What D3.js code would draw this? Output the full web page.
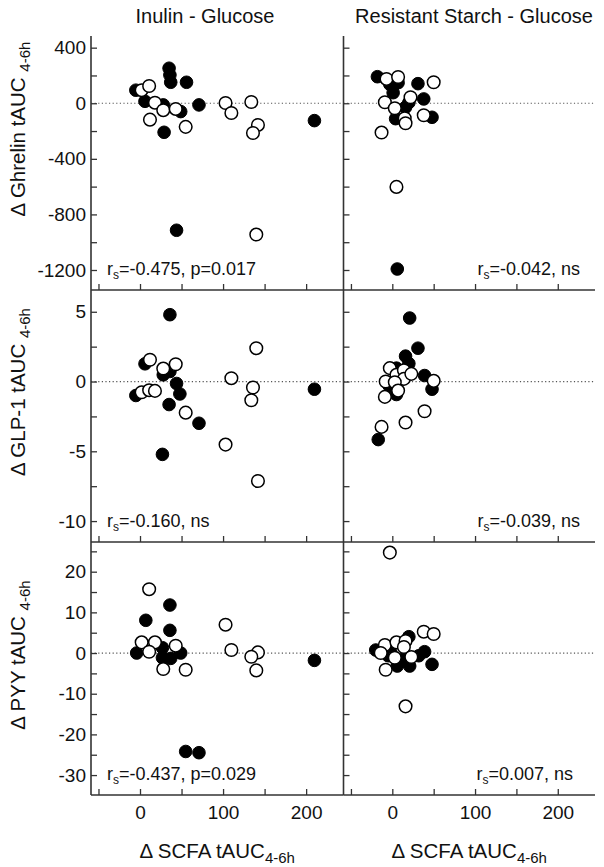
<!DOCTYPE html>
<html><head><meta charset="utf-8">
<script src="https://cdn.jsdelivr.net/npm/d3@7/dist/d3.min.js"></script>
<style>
body{margin:0;background:#fff}
svg{display:block}
text{font-family:"Liberation Sans",Arial,sans-serif;fill:#111}
</style>
</head><body>
<svg id="chart" width="604" height="867"></svg>
<script>
// ---------- data ----------
const columnTitles = ["Inulin - Glucose", "Resistant Starch - Glucose"];
const rowLabels = ["Δ Ghrelin tAUC ", "Δ GLP-1 tAUC ", "Δ PYY tAUC "];
const xLabel = "Δ SCFA tAUC";
const subLabel = "4-6h";
const xDomain = [-59, 245];
const xTickValues = [-50, 0, 50, 100, 150, 200];
const xTickLabels = [0, 100, 200];

const ghrelinDomain = [-1344, 484];
const ghrelinTicks = [400, 200, 0, -200, -400, -600, -800, -1000, -1200];
const ghrelinTickLabels = [400, 0, -400, -800, -1200];
const glpDomain = [-11.5, 6.56];
const glpTicks = [5, 2.5, 0, -2.5, -5, -7.5, -10];
const glpTickLabels = [5, 0, -5, -10];
const pyyDomain = [-34.9, 27.3];
const pyyTicks = [25, 20, 15, 10, 5, 0, -5, -10, -15, -20, -25, -30];
const pyyTickLabels = [20, 10, 0, -10, -20, -30];

// [ΔSCFA, Δhormone]
const ghrelinInulinFilled = [[-5,94],[6,14],[28,-12],[35,252],[36,203],[37,151],[56,151],[49,-60],[29,-209],[71,-12],[44,-914],[210,-125]];
const ghrelinInulinOpen = [[2,94],[11,124],[18,4],[28,-50],[12,-118],[43,-41],[55,-170],[103,2],[110,-70],[134,9],[142,-156],[136,-214],[140,-945]];
const ghrelinRSFilled = [[-18,191],[-3,137],[7,148],[1,76],[31,141],[38,31],[16,-29],[20,5],[4,-111],[48,-101],[6,-1193]];
const ghrelinRSOpen = [[-7,175],[7,189],[50,151],[-9,7],[3,-36],[22,43],[15,-108],[16,-144],[38,-86],[-13,-211],[5,-602]];

const glpInulinFilled = [[36,4.79],[6,1.27],[-5,-1.0],[28,0.48],[36,0.72],[44,-0.14],[48,-0.89],[35,-1.65],[71,-2.99],[27,-5.22],[210,-0.55]];
const glpInulinOpen = [[2,-0.77],[11,-0.62],[12,1.56],[18,-0.67],[28,0.93],[43,1.24],[55,-2.23],[110,0.24],[103,-4.52],[140,2.39],[136,-0.43],[134,-1.34],[142,-7.13]];
const glpRSFilled = [[21,4.55],[31,2.39],[16,1.82],[20,1.29],[5,0.96],[39,0.43],[-4,-0.29],[5,-0.93],[48,-0.55],[-17,-4.16]];
const glpRSOpen = [[-3,0.96],[5,0.48],[14,0.81],[14,0.19],[23,0.55],[-8,0],[3,-0.05],[7,-0.65],[-9,-1.1],[50,0.05],[39,-2.13],[16,-2.94],[-13,-3.25]];

const pyyInulinFilled = [[7,8.05],[36,11.8],[36,5.58],[27,1.31],[-4,0],[27,-1.15],[37,-1.31],[49,0],[55,-24.2],[71,-24.5],[210,-1.8]];
const pyyInulinOpen = [[11,15.7],[2,2.63],[18,2.63],[11,0.33],[43,1.81],[28,-3.94],[55,-4.1],[103,6.97],[110,0.74],[142,0.16],[134,-0.9],[140,-4.27]];
const pyyRSFilled = [[-20,0.74],[-2,0.16],[-5,-0.66],[20,4.02],[6,-3.2],[21,-3.2],[14,-1.31],[32,-0.66],[39,0.33],[48,-2.78]];
const pyyRSOpen = [[-3,24.7],[38,5.25],[50,4.68],[-9,1.97],[5,2.63],[16,2.96],[14,1.48],[-14,0],[3,-1.15],[23,-0.98],[-8,-4.1],[16,-13.1]];

const statR = ["-0.475", "-0.042", "-0.160", "-0.039", "-0.437", "0.007"];
const statP = [", p=0.017", ", ns", ", ns", ", ns", ", p=0.029", ", ns"];

// ---------- layout ----------
const svg = d3.select("#chart");
const colX = [[91, 343.5], [343.5, 595]];
const rowY = [[36, 290], [290, 542], [542, 795]];
const AX = "#333";

const rows = [
  {domain: ghrelinDomain, ticks: ghrelinTicks, labels: ghrelinTickLabels, data: [[ghrelinInulinFilled, ghrelinInulinOpen], [ghrelinRSFilled, ghrelinRSOpen]], labelCy: 129},
  {domain: glpDomain, ticks: glpTicks, labels: glpTickLabels, data: [[glpInulinFilled, glpInulinOpen], [glpRSFilled, glpRSOpen]], labelCy: 392},
  {domain: pyyDomain, ticks: pyyTicks, labels: pyyTickLabels, data: [[pyyInulinFilled, pyyInulinOpen], [pyyRSFilled, pyyRSOpen]], labelCy: 655}
];

// column titles
columnTitles.forEach((t, c) => {
  svg.append("text").attr("x", c === 0 ? 205 : 474).attr("y", 23)
    .attr("text-anchor", "middle").attr("font-size", 20).text(t);
});

rows.forEach((row, r) => {
  const y = d3.scaleLinear().domain(row.domain).range([rowY[r][1], rowY[r][0]]);
  // row label
  const lg = svg.append("text").attr("transform", `translate(25,${row.labelCy}) rotate(-90)`)
    .attr("text-anchor", "middle").attr("font-size", 20.5);
  lg.append("tspan").text(rowLabels[r]);
  lg.append("tspan").attr("font-size", 15).attr("dy", 5).text(subLabel);

  colX.forEach((cx, c) => {
    const x = d3.scaleLinear().domain(xDomain).range(cx);
    const g = svg.append("g");

    // zero dotted line
    g.append("line").attr("x1", cx[0]).attr("x2", cx[1]).attr("y1", y(0)).attr("y2", y(0))
      .attr("stroke", "#555").attr("stroke-width", 1.2).attr("stroke-dasharray", "1.2,2.4");

    // y axis (ticks inward)
    const yAxis = d3.axisRight(y).tickValues(row.ticks).tickSize(6)
      .tickFormat(d => (c === 0 && row.labels.includes(d)) ? d : "");
    const ya = g.append("g").attr("transform", `translate(${cx[0]},0)`).call(yAxis);
    ya.select(".domain").remove();
    ya.selectAll(".tick line").attr("stroke", AX).attr("stroke-width", 1.3);
    ya.selectAll(".tick text").attr("x", -5).attr("text-anchor", "end")
      .attr("font-size", 19).attr("fill", "#111")
      .style("font-family", '"Liberation Sans",Arial,sans-serif');
    g.append("line").attr("x1", cx[0]).attr("x2", cx[0]).attr("y1", rowY[r][0]).attr("y2", rowY[r][1])
      .attr("stroke", AX).attr("stroke-width", 1.6);

    // x axis (ticks inward / upward)
    const xAxis = d3.axisTop(x).tickValues(xTickValues).tickSize(6)
      .tickFormat(d => (r === 2 && xTickLabels.includes(d)) ? d : "");
    const xa = g.append("g").attr("transform", `translate(0,${rowY[r][1]})`).call(xAxis);
    xa.select(".domain").remove();
    xa.selectAll(".tick line").attr("stroke", AX).attr("stroke-width", 1.3);
    xa.selectAll(".tick text").attr("y", 24).attr("dy", 0).attr("font-size", 19).attr("fill", "#111")
      .style("font-family", '"Liberation Sans",Arial,sans-serif');
    g.append("line").attr("x1", cx[0]).attr("x2", cx[1]).attr("y1", rowY[r][1]).attr("y2", rowY[r][1])
      .attr("stroke", AX).attr("stroke-width", 1.6);

    // points
    const [filled, open] = row.data[c];
    g.selectAll(".f").data(filled).join("circle").attr("class", "f")
      .attr("cx", d => x(d[0])).attr("cy", d => y(d[1])).attr("r", 6.3)
      .attr("fill", "#000").attr("stroke", "#000").attr("stroke-width", 1);
    g.selectAll(".o").data(open).join("circle").attr("class", "o")
      .attr("cx", d => x(d[0])).attr("cy", d => y(d[1])).attr("r", 6.3)
      .attr("fill", "#fff").attr("stroke", "#000").attr("stroke-width", 1.5);

    // stats annotation
    const i = r * 2 + c;
    const st = g.append("text").attr("y", rowY[r][1] - 15).attr("font-size", 18);
    if (c === 0) st.attr("x", cx[0] + 16).attr("text-anchor", "start");
    else st.attr("x", r === 2 ? 573 : 580).attr("text-anchor", "end");
    st.append("tspan").text("r");
    st.append("tspan").attr("font-size", 12).attr("dy", 4).text("s");
    st.append("tspan").attr("dy", -4).text("=" + statR[i] + statP[i]);

    // x label
    if (r === 2) {
      const xl = svg.append("text").attr("x", (cx[0] + cx[1]) / 2).attr("y", 858)
        .attr("text-anchor", "middle").attr("font-size", 20.5);
      xl.append("tspan").text(xLabel);
      xl.append("tspan").attr("font-size", 15).attr("dy", 5).text(subLabel);
    }
  });
});
</script>
</body></html>
